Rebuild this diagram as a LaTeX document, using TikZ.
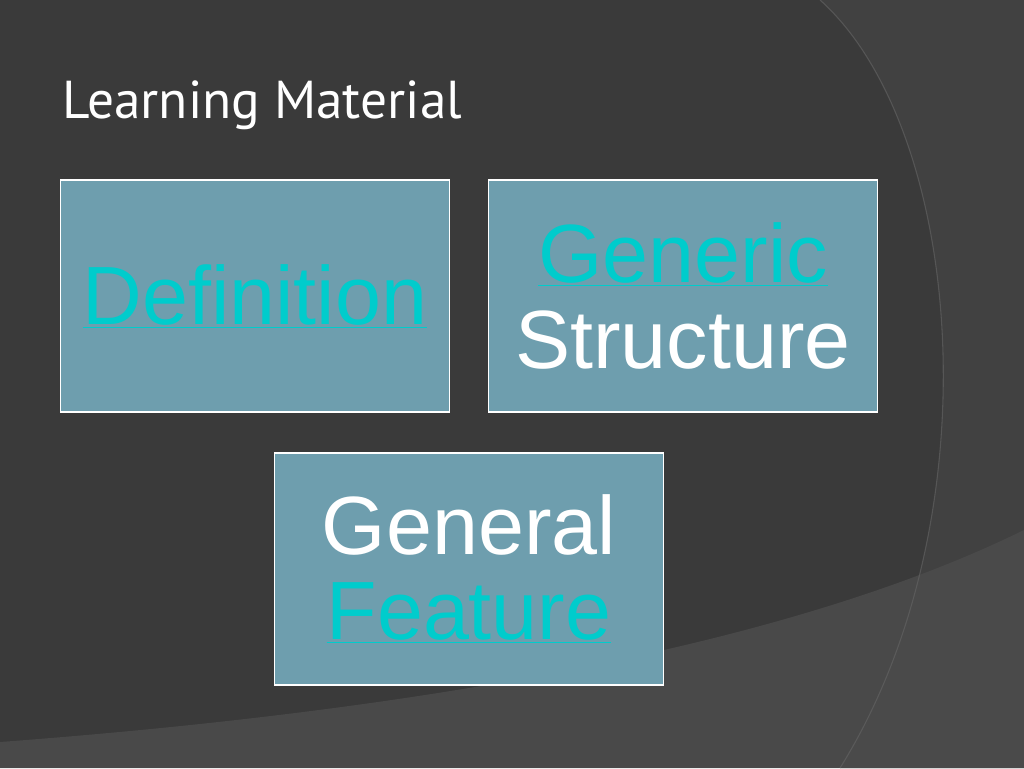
\documentclass[tikz,border=0pt]{standalone}
\usepackage{fontspec}
\setmainfont{Liberation Sans}
\newfontfamily\titlefont{PT Sans}
\definecolor{bg}{HTML}{3A3A3A}
\definecolor{bgr}{HTML}{414141}
\definecolor{bgb}{HTML}{4C4C4C}
\definecolor{boxc}{HTML}{6E9EAE}
\definecolor{linkc}{HTML}{00CCCC}
\begin{document}
\begin{tikzpicture}[x=0.75pt,y=-0.75pt,
  card/.style={draw=white,line width=1.2pt,fill=boxc,minimum width=389*0.75pt,minimum height=232*0.75pt,inner sep=0pt,align=center,text=white,font=\fontsize{62}{68}\selectfont},
  lnk/.style={text=linkc}]
\fill[bg] (0,0) rectangle (1024,768);
\useasboundingbox (0,0) rectangle (1024,768);
\fill[bgr] (820,0) .. controls (965,130) and (995,520) .. (840,768) -- (1024,768) -- (1024,0) -- cycle;
\fill[bgb,opacity=0.85] (0,742) .. controls (400,712) and (780,650) .. (1024,530) -- (1024,768) -- (0,768) -- cycle;
\draw[black!60,line width=0.8pt,opacity=0.6] (820,0) .. controls (965,130) and (995,520) .. (840,768);
\node[anchor=base west,text=white,font=\titlefont\fontsize{40}{44}\selectfont] (title) at (58,118) {Learning Material};
\node[card] (def) at (255,296) {\textcolor{linkc}{\underline{Definition}}};
\node[card] (gen) at (683,296) {\textcolor{linkc}{\underline{Generic}}\\[-4pt]Structure};
\node[card] (feat) at (469,569) {General\\[-4pt]\textcolor{linkc}{\underline{Feature}}};
\end{tikzpicture}
\end{document}
